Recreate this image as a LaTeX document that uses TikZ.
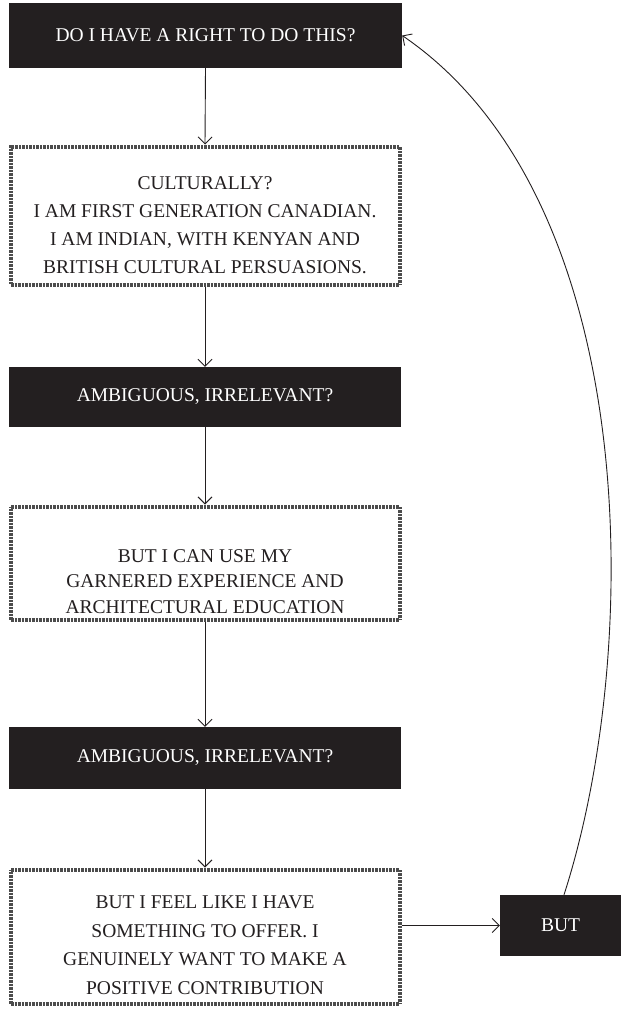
\documentclass[tikz,border=0pt]{standalone}
\usepackage{fontspec}
\setmainfont{Liberation Serif}
\usetikzlibrary{arrows.meta}
\definecolor{boxblack}{HTML}{231F20}
\tikzset{
  x=1pt,y=-1pt,
  blackbox/.style={fill=boxblack,text=white,minimum height=62pt,inner sep=0pt,font=\fontsize{19.5}{28}\selectfont,align=center},
  hatchbox/.style={draw=black!70,line width=4pt,dash pattern=on 0.5pt off 0.9pt,inner sep=0pt},
  boxtext/.style={inner sep=0pt,font=\fontsize{19.5}{28}\selectfont,align=center,text=boxblack},
  conn/.style={draw=boxblack,line width=0.9pt,-{Straight Barb[length=7pt,width=14pt]}}
}
\begin{document}
\begin{tikzpicture}
\useasboundingbox (0,0) rectangle (621,1010);
\node[blackbox,minimum width=393pt,minimum height=65pt] (q1) at (205.5,35.5) {DO I HAVE A RIGHT TO DO THIS?};
\node[hatchbox,minimum width=389pt,minimum height=138pt] (c1) at (205,215.5) {};
\node[boxtext] (c1t) at (205,225) {CULTURALLY?\\I AM FIRST GENERATION CANADIAN.\\I AM INDIAN, WITH KENYAN AND\\BRITISH CULTURAL PERSUASIONS.};
\node[blackbox,minimum width=392pt,minimum height=60pt] (q2) at (205,397) {AMBIGUOUS, IRRELEVANT?};
\node[hatchbox,minimum width=389pt,minimum height=113pt] (c2) at (205,563) {};
\node[boxtext,font=\fontsize{19.5}{25.5}\selectfont] (c2t) at (205,581.5) {BUT I CAN USE MY\\GARNERED EXPERIENCE AND\\ARCHITECTURAL EDUCATION};
\node[blackbox,minimum width=392pt,minimum height=62pt] (q3) at (205,758) {AMBIGUOUS, IRRELEVANT?};
\node[hatchbox,minimum width=389pt,minimum height=134pt] (c3) at (205,936.5) {};
\node[boxtext,font=\fontsize{19.5}{28.5}\selectfont] (c3t) at (205,945) {BUT I FEEL LIKE I HAVE\\SOMETHING TO OFFER. I\\GENUINELY WANT TO MAKE A\\POSITIVE CONTRIBUTION};
\node[blackbox,minimum width=121pt,minimum height=61pt] (but) at (560.5,925.5) {BUT};
\draw[conn] (q1.south) -- (c1.north);
\draw[conn] (c1.south) -- (q2.north);
\draw[conn] (q2.south) -- (c2.north);
\draw[conn] (c2.south) -- (q3.north);
\draw[conn] (q3.south) -- (c3.north);
\draw[conn] (c3.east |- but.west) -- (but.west);
\draw[conn] (but.north -| 564,0) .. controls (643,650) and (643,200) .. (q1.east);
\end{tikzpicture}
\end{document}
